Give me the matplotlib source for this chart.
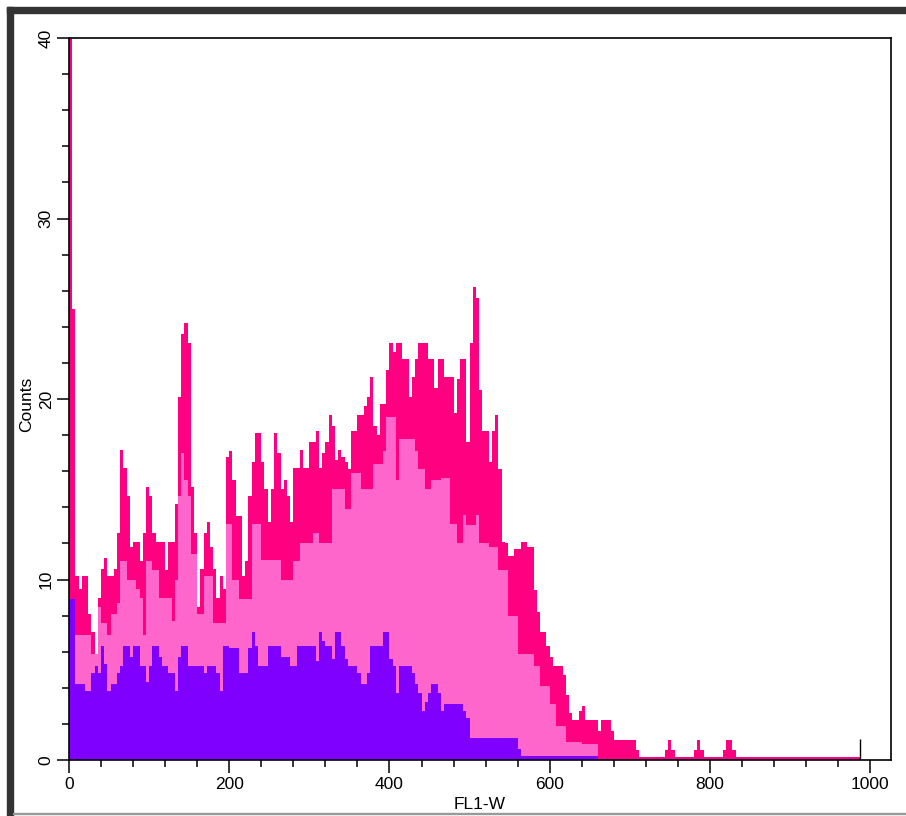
import numpy as np
import matplotlib.pyplot as plt
from matplotlib.patches import Rectangle

plt.rcParams['font.family'] = ['Liberation Sans', 'DejaVu Sans']

# FL1-W histogram, 4-channel bins from 0 to 988
bin_width = 4
n_bins = 247

# total events (hot pink)
total = [45, 25, 10.2, 9.5, 10.2, 10.2, 8.1, 7.1, 5.9, 9.0,
         10.6, 11.2, 10.2, 10.2, 10.6, 12.6, 17.2, 16.2, 14.6, 11.8,
         12.1, 12.1, 11.0, 12.6, 15.1, 14.6, 12.6, 12.1, 12.1, 12.1,
         10.5, 12.1, 12.1, 14.2, 20.1, 23.6, 24.2, 23.1, 15.1, 12.6,
         8.5, 10.6, 12.6, 13.2, 11.8, 10.6, 9.0, 10.2, 9.5, 16.8,
         17.1, 15.5, 13.5, 13.5, 10.2, 11.0, 14.6, 16.5, 18.1, 18.1,
         16.5, 15.0, 13.2, 15.0, 18.1, 17.0, 15.0, 15.5, 14.6, 13.2,
         16.2, 16.2, 17.2, 16.2, 16.2, 17.6, 17.6, 18.2, 16.2, 17.0,
         17.6, 19.1, 18.5, 16.6, 17.2, 16.8, 16.5, 16.1, 18.2, 18.2,
         19.1, 19.1, 19.6, 20.1, 21.2, 18.5, 18.0, 19.7, 19.7, 21.6,
         23.1, 22.6, 23.1, 23.1, 22.2, 22.2, 20.1, 21.2, 22.2, 23.1,
         23.1, 23.1, 22.2, 22.2, 20.6, 22.2, 22.2, 21.2, 21.2, 21.2,
         19.2, 21.1, 22.2, 22.2, 17.6, 23.1, 26.2, 25.6, 20.5, 18.2,
         18.2, 16.5, 18.2, 19.1, 16.1, 12.1, 12.0, 11.3, 11.3, 11.7,
         11.7, 12.1, 12.1, 11.8, 11.8, 9.4, 8.2, 7.1, 7.1, 6.3,
         5.7, 5.2, 5.2, 5.2, 4.7, 3.6, 2.6, 2.2, 2.2, 2.7,
         3.0, 2.2, 2.2, 2.2, 2.2, 1.6, 2.2, 2.2, 2.2, 1.6] \
    + [1.1] * 7 + [0.55] + [0.15] * 8 + [0.55, 1.1, 0.55] + [0.15] * 6 \
    + [0.55, 1.1, 0.55] + [0.15] * 6 + [0.55, 1.1, 1.1, 0.55] + [0.15] * 39

# gated subset (light pink)
gate1 = [8.9, 6.9, 6.9, 6.9, 6.9, 6.9, 6.9, 5.9, 5.9, 8.5,
         7.6, 7.6, 6.9, 8.1, 8.1, 8.7, 11.0, 11.0, 10.0, 10.0,
         10.0, 9.5, 9.0, 6.9, 11.0, 11.0, 10.5, 10.5, 9.0, 9.0,
         9.0, 9.0, 7.7, 10.0, 14.6, 17.0, 15.5, 14.6, 11.4, 11.4,
         8.1, 8.1, 10.2, 10.2, 10.2, 7.6, 7.6, 7.6, 7.6, 13.1,
         13.1, 10.0, 10.0, 8.9, 8.9, 8.9, 8.9, 13.1, 13.1, 13.1,
         11.1, 11.1, 11.1, 11.1, 11.1, 11.1, 10.0, 10.0, 10.0, 10.0,
         11.0, 11.0, 12.0, 12.0, 12.0, 12.0, 12.6, 12.6, 12.0, 12.0,
         12.0, 12.0, 15.0, 15.0, 15.0, 15.0, 13.9, 13.9, 15.9, 15.9,
         15.9, 15.0, 15.0, 15.0, 15.0, 16.4, 16.4, 16.4, 17.1, 19.0,
         19.0, 19.0, 15.5, 17.8, 17.8, 17.8, 17.8, 17.8, 17.1, 16.1,
         16.1, 15.0, 15.0, 15.5, 15.5, 15.5, 15.6, 15.6, 15.6, 13.1,
         13.1, 12.0, 12.0, 13.6, 13.0, 13.0, 13.0, 13.6, 12.0, 12.0,
         12.0, 11.8, 11.8, 11.8, 10.5, 10.5, 10.5, 8.0, 8.0, 8.0,
         5.9, 5.9, 5.9, 5.9, 5.9, 5.2, 5.2, 4.1, 4.1, 4.1,
         3.1, 3.1, 1.9, 1.9, 1.9, 1.0, 1.0, 1.0, 1.0, 1.0] \
    + [0.9] * 5 + [0.07] * 82

# second gated subset (purple)
gate2 = [8.9, 8.9, 4.2, 4.2, 4.2, 3.8, 3.8, 4.8, 5.2, 4.8,
         6.3, 5.3, 3.8, 4.2, 4.2, 4.8, 5.2, 6.3, 6.3, 5.7,
         6.3, 6.3, 5.2, 5.2, 4.3, 5.2, 6.3, 6.3, 5.7, 5.2,
         5.2, 4.8, 4.8, 3.8, 5.7, 6.3, 6.3, 5.2, 5.2, 5.2,
         5.2, 5.2, 4.8, 5.2, 5.2, 5.2, 4.8, 3.8, 6.3, 6.3,
         6.2, 6.2, 6.2, 4.8, 4.8, 4.8, 6.2, 7.1, 6.3, 5.2,
         5.2, 5.2, 6.3, 6.3, 6.3, 6.3, 5.7, 5.7, 5.7, 5.2,
         5.2, 6.3, 6.3, 6.3, 6.3, 6.3, 6.3, 5.5, 7.1, 6.6,
         6.3, 6.3, 5.6, 7.1, 7.1, 6.3, 5.6, 5.2, 5.2, 5.2,
         4.8, 4.2, 4.2, 4.8, 6.3, 6.3, 6.3, 6.3, 7.1, 7.1,
         5.6, 5.2, 3.7, 5.2, 5.2, 5.2, 5.2, 4.8, 4.2, 3.7,
         2.7, 3.2, 3.7, 4.2, 4.2, 3.7, 2.7, 3.1, 3.1, 3.1,
         3.1, 3.1, 3.1, 2.7, 2.3] \
    + [1.2] * 15 + [0.6] + [0.2] * 24 + [0.07] * 82

edges = np.arange(n_bins + 1) * bin_width

fig = plt.figure(figsize=(9.06, 8.16), dpi=100)
ax = fig.add_axes([69 / 906, 1 - 760 / 816, 822 / 906, 722 / 816])

ax.stairs(total, edges, fill=True, color='#FF0080')
ax.stairs(gate1, edges, fill=True, color='#FF66CC')
ax.stairs(gate2, edges, fill=True, color='#8000FF')
ax.vlines(987, 0, 1.15, color='black', lw=1)

ax.set_xlim(0, 1026)
ax.set_ylim(0, 40)

ax.set_xticks(np.arange(0, 1001, 200))
ax.set_xticks(np.arange(0, 1001, 40), minor=True)
ax.set_yticks(np.arange(0, 41, 10))
ax.set_yticks(np.arange(0, 41, 2), minor=True)
ax.set_yticklabels([str(v) for v in range(0, 41, 10)], rotation=90, va='center')

ax.tick_params(which='major', direction='out', length=9, width=1.1, labelsize=12.5, pad=3)
ax.tick_params(which='minor', direction='out', length=5, width=1.1)
ax.tick_params(axis='y', pad=2)
for s in ax.spines.values():
    s.set_linewidth(1.2)

ax.set_xlabel('FL1-W', fontsize=12.5, va='center')
ax.xaxis.set_label_coords(0.5, -0.062)
ax.set_ylabel('Counts', fontsize=12.5, va='center', ha='center')
ax.yaxis.set_label_coords(-0.051, 0.493)

# window frame around the plot
W, H = 906, 816
frame = '#333333'
fig.patches.append(Rectangle((7 / W, 0), 6 / W, 1 - 7 / H, transform=fig.transFigure, color=frame))
fig.patches.append(Rectangle((7 / W, 1 - 13 / H), 1 - 7 / W, 6 / H, transform=fig.transFigure, color=frame))
fig.patches.append(Rectangle((13 / W, 2 / H), 1, 1.5 / H, transform=fig.transFigure, color='#999999'))

fig.savefig('out.png', dpi=100)
